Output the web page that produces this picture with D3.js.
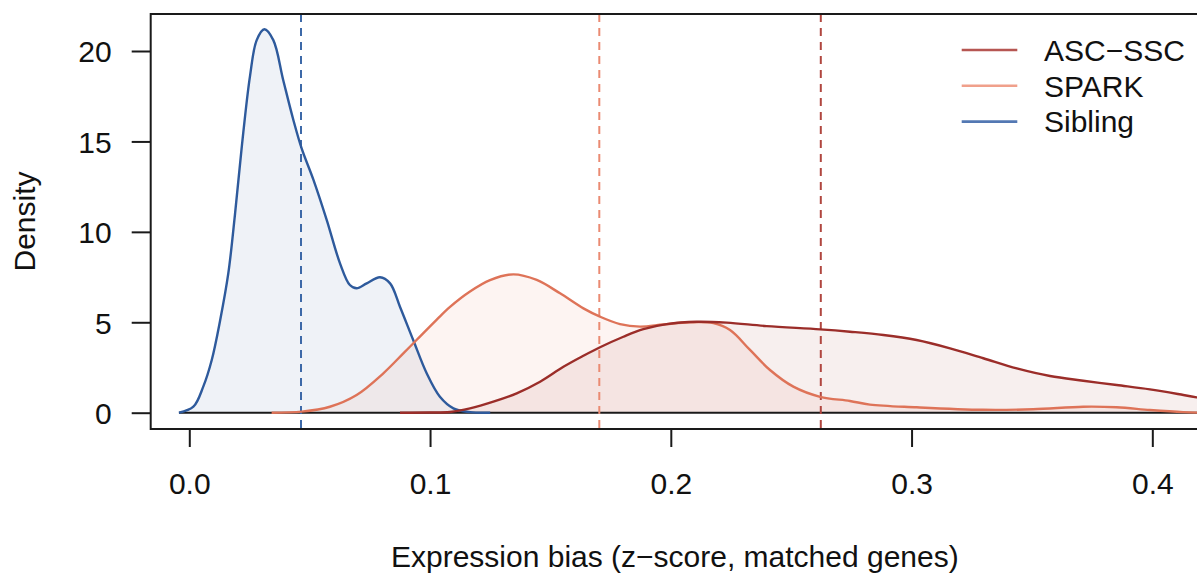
<!DOCTYPE html>
<html>
<head>
<meta charset="utf-8">
<script src="https://cdn.jsdelivr.net/npm/d3@7"></script>
<style>
  html, body { margin: 0; padding: 0; background: #ffffff; }
  svg { display: block; }
  text { font-family: "Liberation Sans", Arial, Helvetica, sans-serif; fill: #111; }
</style>
</head>
<body>
<svg id="chart" width="1197" height="573"></svg>
<script>
// Kernel density estimates of expression bias, one curve per cohort: [x, density]
const ascSsc = [
  [0.0875, 0], [0.1, 0.01], [0.1083, 0.04], [0.1166, 0.24], [0.1263, 0.61], [0.136, 1.07],
  [0.1457, 1.71], [0.1554, 2.54], [0.1637, 3.15], [0.1706, 3.62], [0.1803, 4.2],
  [0.1886, 4.62], [0.1983, 4.9], [0.2108, 5.03], [0.2232, 4.98], [0.2398, 4.79],
  [0.262, 4.61], [0.2744, 4.48], [0.2883, 4.3], [0.3021, 4.02], [0.316, 3.56],
  [0.3298, 3.01], [0.3437, 2.45], [0.3575, 2.03], [0.3713, 1.77], [0.3852, 1.53],
  [0.399, 1.29], [0.4129, 0.98], [0.4184, 0.85], [0.425, 0.7]
];
const spark = [
  [0.0342, 0], [0.0467, 0.06], [0.0584, 0.33], [0.0695, 0.98], [0.0806, 2.18],
  [0.0889, 3.28], [0.0944, 4.02], [0.1028, 5.15], [0.1083, 5.85], [0.1166, 6.7],
  [0.1249, 7.33], [0.1346, 7.65], [0.1443, 7.34], [0.154, 6.6], [0.1637, 5.77],
  [0.1706, 5.31], [0.1789, 4.9], [0.1872, 4.76], [0.1969, 4.88], [0.208, 5.0],
  [0.2177, 4.95], [0.2246, 4.57], [0.2329, 3.47], [0.2412, 2.36], [0.2509, 1.44],
  [0.262, 0.88], [0.2744, 0.65], [0.2827, 0.45], [0.3021, 0.3], [0.3298, 0.16],
  [0.3505, 0.19], [0.3713, 0.33], [0.3852, 0.3], [0.399, 0.15], [0.4128, 0.03], [0.42, 0]
];
const sibling = [
  [-0.0043, 0], [0.0017, 0.33], [0.0058, 1.44], [0.0093, 2.9], [0.0128, 5.1],
  [0.0162, 7.7], [0.019, 11.0], [0.0218, 14.7], [0.0252, 18.6], [0.028, 20.6],
  [0.0312, 21.2], [0.0349, 20.6], [0.039, 18.4], [0.0432, 16.2], [0.0467, 14.6],
  [0.0515, 12.9], [0.0571, 10.65], [0.0626, 8.26], [0.0667, 7.06], [0.0695, 6.88],
  [0.0737, 7.15], [0.0792, 7.49], [0.0834, 7.15], [0.0875, 5.86], [0.093, 4.02],
  [0.0986, 2.18], [0.1041, 0.88], [0.1097, 0.24], [0.1166, 0.03], [0.125, 0]
];

// Mean expression bias per cohort (dashed reference lines)
const groupNames = ["ASC\u2212SSC", "SPARK", "Sibling"];
const groupMeans = [0.2623, 0.1703, 0.0464];

// Axis ticks
const xTicks = [0.0, 0.1, 0.2, 0.3, 0.4];
const yTicks = [0, 5, 10, 15, 20];

const series = [
  { name: groupNames[0], data: ascSsc, mean: groupMeans[0],
    line: "#9b2d29", fill: "#9b2d29", dash: "#b0463f", key: "#b65652" },
  { name: groupNames[1], data: spark, mean: groupMeans[1],
    line: "#de7358", fill: "#e0785c", dash: "#ea8a72", key: "#f0a08b" },
  { name: groupNames[2], data: sibling, mean: groupMeans[2],
    line: "#2e5a9c", fill: "#2e5a9c", dash: "#3d69a8", key: "#5378b3" }
];

const svg = d3.select("#chart");
const plotL = 150.7, plotR = 1199, plotT = 14, plotB = 429;

const x = d3.scaleLinear().domain([-0.01603, 0.41939]).range([plotL, plotR]);
const y = d3.scaleLinear().domain([-0.901, 22.046]).range([plotB, plotT]);

svg.append("rect").attr("width", 1197).attr("height", 573).attr("fill", "#fff");

svg.append("defs").append("clipPath").attr("id", "plotClip")
  .append("rect").attr("x", plotL).attr("y", plotT)
  .attr("width", plotR - plotL).attr("height", plotB - plotT);

const plot = svg.append("g").attr("clip-path", "url(#plotClip)");

const curve = d3.curveCatmullRom.alpha(0.5);
const area = d3.area().x(d => x(d[0])).y0(y(0)).y1(d => y(d[1])).curve(curve);
const line = d3.line().x(d => x(d[0])).y(d => y(d[1])).curve(curve);

// translucent density fills (Sibling underneath)
[...series].reverse().forEach(s => {
  plot.append("path").datum(s.data).attr("d", area)
    .attr("fill", s.fill).attr("fill-opacity", 0.08).attr("stroke", "none");
});

// zero baseline
plot.append("line")
  .attr("x1", x(sibling[0][0])).attr("x2", plotR)
  .attr("y1", y(0)).attr("y2", y(0))
  .attr("stroke", "#1a1a1a").attr("stroke-width", 2);

// mean lines
series.forEach(s => {
  plot.append("line")
    .attr("x1", x(s.mean)).attr("x2", x(s.mean))
    .attr("y1", plotT).attr("y2", plotB)
    .attr("stroke", s.dash).attr("stroke-width", 2)
    .attr("stroke-dasharray", "8,6");
});

// density outlines
[...series].reverse().forEach(s => {
  plot.append("path").datum(s.data).attr("d", line)
    .attr("fill", "none").attr("stroke", s.line).attr("stroke-width", 2.4)
    .attr("stroke-linejoin", "round");
});

// frame
svg.append("rect").attr("x", plotL).attr("y", plotT)
  .attr("width", plotR - plotL).attr("height", plotB - plotT)
  .attr("fill", "none").attr("stroke", "#1a1a1a").attr("stroke-width", 2);

const fontSize = 30;

// x axis
const xAxis = svg.append("g").attr("transform", `translate(0,${plotB})`)
  .call(d3.axisBottom(x).tickValues(xTicks).tickFormat(d3.format(".1f"))
    .tickSize(18).tickSizeOuter(0).tickPadding(46));
xAxis.select(".domain").remove();
xAxis.selectAll(".tick line").attr("stroke", "#1a1a1a").attr("stroke-width", 2);
xAxis.selectAll(".tick text").attr("font-size", fontSize).attr("fill", "#111")
  .attr("dy", 0).attr("y", 65)
  .style("font-family", "'Liberation Sans', Arial, sans-serif");

// y axis
const yAxis = svg.append("g").attr("transform", `translate(${plotL},0)`)
  .call(d3.axisLeft(y).tickValues(yTicks).tickFormat(d3.format("d"))
    .tickSize(19).tickSizeOuter(0).tickPadding(20));
yAxis.select(".domain").remove();
yAxis.selectAll(".tick line").attr("stroke", "#1a1a1a").attr("stroke-width", 2);
yAxis.selectAll(".tick text").attr("font-size", fontSize).attr("fill", "#111")
  .attr("dy", "0.36em")
  .style("font-family", "'Liberation Sans', Arial, sans-serif");

// axis titles
svg.append("text")
  .attr("x", (plotL + plotR) / 2).attr("y", 566.5)
  .attr("text-anchor", "middle").attr("font-size", fontSize)
  .text("Expression bias (z\u2212score, matched genes)");

svg.append("text")
  .attr("transform", `translate(35,${(plotT + plotB) / 2}) rotate(-90)`)
  .attr("text-anchor", "middle").attr("font-size", fontSize)
  .text("Density");

// legend
const legend = svg.append("g");
series.forEach((s, i) => {
  const ly = 50 + i * 35.8;
  legend.append("line")
    .attr("x1", 961.7).attr("x2", 1017.3).attr("y1", ly).attr("y2", ly)
    .attr("stroke", s.key).attr("stroke-width", 2.6);
  legend.append("text")
    .attr("x", 1044).attr("y", ly + 10.8)
    .attr("font-size", fontSize).text(s.name);
});
</script>
</body>
</html>
